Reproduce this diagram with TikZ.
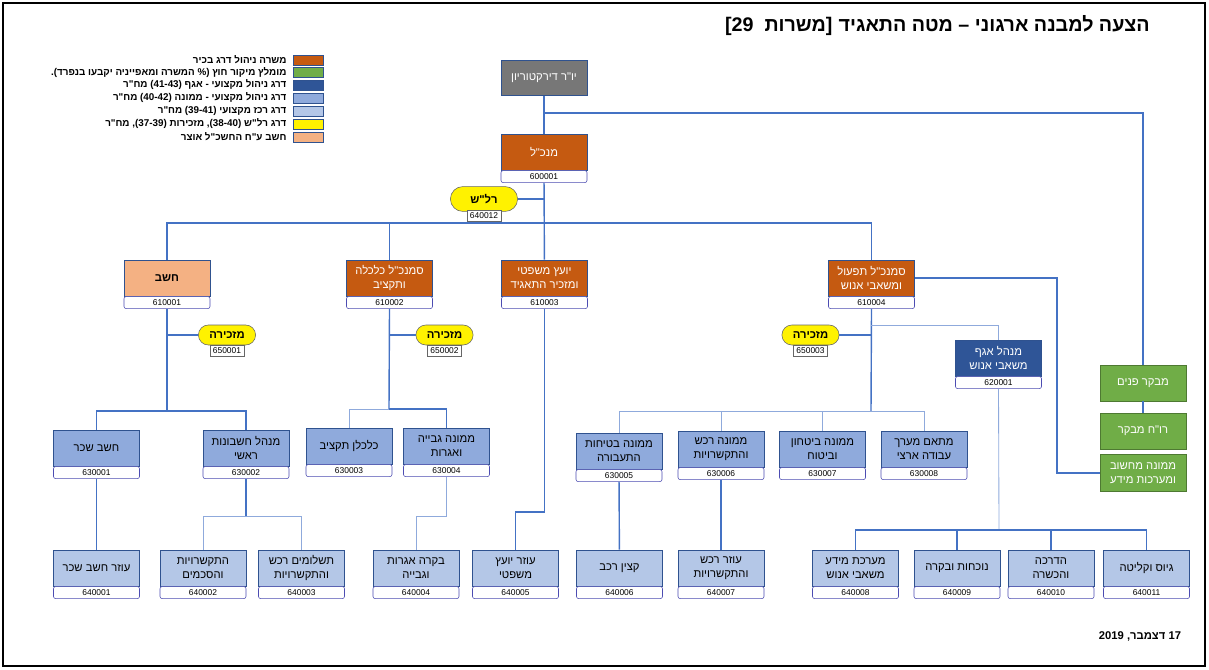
\documentclass[tikz,border=0pt]{standalone}
\usepackage{fontspec}
\setmainfont{Liberation Sans}
\newfontfamily\hebfont[Script=Hebrew]{Liberation Sans}
\TeXXeTstate=1
\usetikzlibrary{positioning, shapes.misc}
\newcommand{\heb}[1]{{\hebfont\beginR #1\endR}}
\definecolor{orgC}{HTML}{C55A11}
\definecolor{grnC}{HTML}{70AD47}
\definecolor{dblC}{HTML}{2F5597}
\definecolor{mblC}{HTML}{8FAADC}
\definecolor{lblC}{HTML}{B4C7E7}
\definecolor{salC}{HTML}{F4B183}
\definecolor{gryC}{HTML}{777777}
\definecolor{lineC}{HTML}{4472C4}
\definecolor{boxline}{HTML}{2F528F}

\begin{document}
\begin{tikzpicture}[x=0.025cm, y=-0.025cm,
    box/.style={rectangle, draw=boxline, line width=0.4pt, minimum width=2.15cm, minimum height=0.9cm, align=center, inner sep=1pt, font=\fontsize{8}{10}\selectfont},
    topbox/.style={box, fill=gryC, text=white},
    mgr/.style={box, fill=orgC, text=white},
    chief/.style={box, fill=salC, font=\fontsize{8}{10}\selectfont\bfseries},
    hrbox/.style={box, fill=dblC, text=white},
    midbox/.style={box, fill=mblC},
    lowbox/.style={box, fill=lblC},
    extbox/.style={box, fill=grnC, draw=grnC!70!black, text=white},
    num/.style={rectangle, rounded corners=1.5pt, draw=gray!60!blue, fill=white, line width=0.4pt, minimum width=2.15cm, minimum height=0.3cm, inner sep=0pt, font=\fontsize{6}{7}\selectfont},
    pill/.style={rounded rectangle, draw=gray!80!black, fill=yellow, minimum width=1.5cm, minimum height=0.5cm, inner sep=1pt, font=\fontsize{8}{10}\selectfont\bfseries},
    pillnum/.style={rectangle, draw=gray!80!black, fill=white, line width=0.4pt, minimum width=0.85cm, minimum height=0.27cm, inner sep=0pt, font=\fontsize{6}{7}\selectfont},
    swatch/.style={rectangle, draw=boxline, line width=0.4pt, minimum width=0.75cm, minimum height=0.25cm, inner sep=0pt},
    legtext/.style={font=\fontsize{7}{8}\selectfont\bfseries, inner sep=0pt},
    titletext/.style={font=\fontsize{14}{16}\selectfont\bfseries, inner sep=0pt},
    link/.style={draw=lineC, line width=1pt},
    thinlink/.style={draw=mblC, line width=0.6pt}
]
    \useasboundingbox (0,0) rectangle (1209,670);
    \draw[line width=1pt] (3,3) rectangle (1205,666);

    % Title and date
    \node[titletext, anchor=base east] (title) at (1150,32) {\heb{הצעה למבנה ארגוני – מטה התאגיד}};
    \node[titletext, anchor=base east] (titlenum) at ([xshift=-4pt]title.base west) {[29\ \ \heb{משרות}]};
    \node[anchor=east, font=\fontsize{8}{10}\selectfont\bfseries] (date) at (1186,636)
        {\heb{17 דצמבר, 2019}};

    % Legend
    \node[swatch, fill=orgC] (lg1) at (308,60) {};
    \node[swatch, fill=grnC] (lg2) at (308,72.5) {};
    \node[swatch, fill=dblC] (lg3) at (308,85) {};
    \node[swatch, fill=mblC] (lg4) at (308,98) {};
    \node[swatch, fill=lblC] (lg5) at (308,111) {};
    \node[swatch, fill=yellow] (lg6) at (308,124) {};
    \node[swatch, fill=salC] (lg7) at (308,137) {};
    \node[legtext, left=0.15cm of lg1] (lt1) {\heb{משרה ניהול דרג בכיר}};
    \node[legtext, left=0.15cm of lg2] (lt2) {\heb{מומלץ מיקור חוץ (\% המשרה ומאפייניה יקבעו בנפרד).}};
    \node[legtext, left=0.15cm of lg3] (lt3) {\heb{דרג ניהול מקצועי - אגף (41-43) מח"ר}};
    \node[legtext, left=0.15cm of lg4] (lt4) {\heb{דרג ניהול מקצועי - ממונה (40-42) מח"ר}};
    \node[legtext, left=0.15cm of lg5] (lt5) {\heb{דרג רכז מקצועי (39-41) מח"ר}};
    \node[legtext, left=0.15cm of lg6] (lt6) {\heb{דרג רל"ש (38-40), מזכירות (37-39), מח"ר}};
    \node[legtext, left=0.15cm of lg7] (lt7) {\heb{חשב ע"ח החשכ"ל אוצר}};

    % Board and CEO
    \node[topbox, minimum height=0.875cm] (yor) at (544,78) {\heb{יו"ר דירקטוריון}};
    \node[mgr] (mankal) at (544,152) {\heb{מנכ"ל}};
    \node[num, below=0pt of mankal] (mankaln) {600001};
    \node[pill, minimum width=1.75cm, minimum height=0.62cm] (ralash) at (484,199) {\heb{רל"ש}};
    \node[pillnum, below=-1pt of ralash] (ralashn) {640012};

    % Deputies
    \node[chief] (hashav) at (167,278) {\heb{חשב}};
    \node[num, below=0pt of hashav] (hashavn) {610001};
    \node[mgr] (calc) at (389.5,278) {\heb{סמנכ"ל כלכלה}\\\heb{ותקציב}};
    \node[num, below=0pt of calc] (calcn) {610002};
    \node[mgr] (yoetz) at (544.5,278) {\heb{יועץ משפטי}\\\heb{ומזכיר התאגיד}};
    \node[num, below=0pt of yoetz] (yoetzn) {610003};
    \node[mgr] (tifool) at (871.5,278) {\heb{סמנכ"ל תפעול}\\\heb{ומשאבי אנוש}};
    \node[num, below=0pt of tifool] (tifooln) {610004};

    % Secretaries
    \node[pill] (mazk1) at (227,335) {\heb{מזכירה}};
    \node[pillnum, below=0pt of mazk1] (mazk1n) {650001};
    \node[pill] (mazk2) at (444.5,335) {\heb{מזכירה}};
    \node[pillnum, below=0pt of mazk2] (mazk2n) {650002};
    \node[pill] (mazk3) at (810.5,335) {\heb{מזכירה}};
    \node[pillnum, below=0pt of mazk3] (mazk3n) {650003};

    % HR division
    \node[hrbox] (agaf) at (998.5,358) {\heb{מנהל אגף}\\\heb{משאבי אנוש}};
    \node[num, below=0pt of agaf] (agafn) {620001};

    % Outsourced
    \node[extbox] (mevaker) at (1143,383) {\heb{מבקר פנים}};
    \node[extbox] (roah) at (1143,431) {\heb{רו"ח מבקר}};
    \node[extbox, minimum height=0.925cm] (mihshuv) at (1143,473) {\heb{ממונה מחשוב}\\\heb{ומערכות מידע}};

    % Third level
    \node[midbox] (sachar) at (96.5,448) {\heb{חשב שכר}};
    \node[num, below=0pt of sachar] (sacharn) {630001};
    \node[midbox] (heshbonot) at (246,448) {\heb{מנהל חשבונות}\\\heb{ראשי}};
    \node[num, below=0pt of heshbonot] (heshbonotn) {630002};
    \node[midbox] (kalkalan) at (349,446) {\heb{כלכלן תקציב}};
    \node[num, below=0pt of kalkalan] (kalkalann) {630003};
    \node[midbox] (gviya) at (446.5,446) {\heb{ממונה גבייה}\\\heb{ואגרות}};
    \node[num, below=0pt of gviya] (gviyan) {630004};
    \node[midbox] (betihut) at (619,451) {\heb{ממונה בטיחות}\\\heb{התעבורה}};
    \node[num, below=0pt of betihut] (betihutn) {630005};
    \node[midbox] (rechesh) at (721,449) {\heb{ממונה רכש}\\\heb{והתקשרויות}};
    \node[num, below=0pt of rechesh] (recheshn) {630006};
    \node[midbox] (bitahon) at (822.5,449) {\heb{ממונה ביטחון}\\\heb{וביטוח}};
    \node[num, below=0pt of bitahon] (bitahonn) {630007};
    \node[midbox] (meatem) at (924,449) {\heb{מתאם מערך}\\\heb{עבודה ארצי}};
    \node[num, below=0pt of meatem] (meatemn) {630008};

    % Fourth level
    \node[lowbox] (ozsachar) at (96.5,568) {\heb{עוזר חשב שכר}};
    \node[num, below=0pt of ozsachar] (ozsacharn) {640001};
    \node[lowbox] (haskamim) at (203,568) {\heb{התקשרויות}\\\heb{והסכמים}};
    \node[num, below=0pt of haskamim] (haskamimn) {640002};
    \node[lowbox] (tashlumim) at (301.5,568) {\heb{תשלומים רכש}\\\heb{והתקשרויות}};
    \node[num, below=0pt of tashlumim] (tashlumimn) {640003};
    \node[lowbox] (bakara) at (416,568) {\heb{בקרה אגרות}\\\heb{וגבייה}};
    \node[num, below=0pt of bakara] (bakaran) {640004};
    \node[lowbox] (ozyoetz) at (515.5,568) {\heb{עוזר יועץ}\\\heb{משפטי}};
    \node[num, below=0pt of ozyoetz] (ozyoetzn) {640005};
    \node[lowbox] (katzin) at (619.5,568) {\heb{קצין רכב}};
    \node[num, below=0pt of katzin] (katzinn) {640006};
    \node[lowbox] (ozrechesh) at (721,568) {\heb{עוזר רכש}\\\heb{והתקשרויות}};
    \node[num, below=0pt of ozrechesh] (ozrecheshn) {640007};
    \node[lowbox] (maarechet) at (855.5,568) {\heb{מערכת מידע}\\\heb{משאבי אנוש}};
    \node[num, below=0pt of maarechet] (maarechetn) {640008};
    \node[lowbox] (nochechut) at (957,568) {\heb{נוכחות ובקרה}};
    \node[num, below=0pt of nochechut] (nochechutn) {640009};
    \node[lowbox] (hadracha) at (1051,568) {\heb{הדרכה}\\\heb{והכשרה}};
    \node[num, below=0pt of hadracha] (hadrachan) {640010};
    \node[lowbox] (giyus) at (1146.5,568) {\heb{גיוס וקליטה}};
    \node[num, below=0pt of giyus] (giyusn) {640011};

    % Junctions
    \coordinate (jtop) at (544,113);
    \coordinate (jmain) at (544,223);
    \coordinate (jhashav) at (167,411);
    \coordinate (jcalc) at (389,409);
    \coordinate (jtif) at (871,411);
    \coordinate (jagaf) at (871,325);
    \coordinate (jhr) at (999,530);
    \coordinate (jcomp) at (1057,278);
    \coordinate (jyoetz) at (515.5,512);
    \coordinate (jhesh) at (246,516);
    \coordinate (jgviya) at (416,516);

    % Connectors
    \draw[link] (yor) -- (mankal);
    \draw[link] (jtop) -| (mevaker.north);
    \draw[link] (mevaker) -- (roah);
    \draw[link] (mankaln) -- (yoetz);
    \draw[link] (yoetzn.south) |- (jyoetz) -- (ozyoetz.north);
    \draw[link] (ralash.east) -- (ralash.east -| mankaln.south);
    \draw[link] (jmain) -| (hashav.north);
    \draw[link] (jmain) -| (calc.north);
    \draw[link] (jmain) -| (tifool.north);

    \draw[link] (hashavn.south) -- (jhashav);
    \draw[link] (mazk1.west) -- (mazk1.west -| hashavn.south);
    \draw[link] (jhashav) -| (sachar.north);
    \draw[link] (jhashav) -| (heshbonot.north);
    \draw[link] (sacharn) -- (ozsachar);
    \draw[link] (heshbonotn.south) -- (jhesh);
    \draw[thinlink] (jhesh) -| (haskamim.north);
    \draw[thinlink] (jhesh) -| (tashlumim.north);

    \draw[link] (calcn.south) -- (jcalc);
    \draw[link] (mazk2.west) -- (mazk2.west -| calcn.south);
    \draw[thinlink] (jcalc) -| (kalkalan.north);
    \draw[link] (jcalc) -| (gviya.north);
    \draw[thinlink] (gviyan.south) |- (jgviya) -- (bakara.north);

    \draw[link] (tifooln.south) -- (jtif);
    \draw[link] (mazk3.east) -- (mazk3.east -| tifooln.south);
    \draw[thinlink] (jtif) -| (betihut.north);
    \draw[thinlink] (jtif) -| (rechesh.north);
    \draw[thinlink] (jtif) -| (bitahon.north);
    \draw[thinlink] (jtif) -| (meatem.north);
    \draw[link] (betihutn) -- (katzin);
    \draw[link] (recheshn) -- (ozrechesh);
    \draw[thinlink] (jagaf) -| (agaf.north);
    \draw[link] (tifool.east) -- (jcomp) |- (mihshuv.west);

    \draw[thinlink] (agafn.south) -- (jhr);
    \draw[link] (jhr) -| (maarechet.north);
    \draw[link] (jhr) -| (nochechut.north);
    \draw[link] (jhr) -| (hadracha.north);
    \draw[link] (jhr) -| (giyus.north);
\end{tikzpicture}
\end{document}
